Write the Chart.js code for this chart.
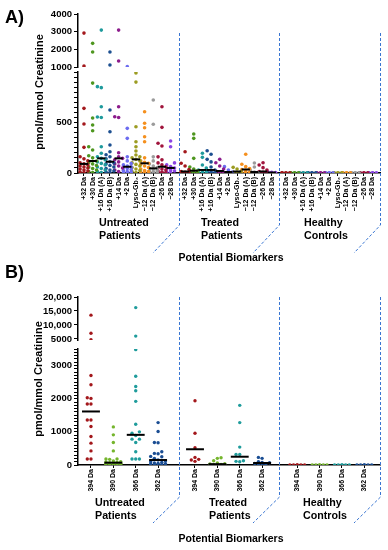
<!DOCTYPE html>
<html>
<head>
<meta charset="utf-8">
<script src="https://cdn.jsdelivr.net/npm/chart.js@4"></script>
<style>
  body { margin: 0; background: #fff; width: 388px; height: 550px; overflow: hidden; position: relative; }
  canvas { position: absolute; left: 0; }
  #chartA { top: 0; }
  #chartB { top: 265px; }
</style>
</head>
<body>
<canvas id="chartA" width="388" height="265"></canvas>
<canvas id="chartB" width="388" height="285"></canvas>
<script>
const FONT = '"Liberation Sans", Arial, sans-serif'
const groupNames = [['Untreated', 'Patients'], ['Treated', 'Patients'], ['Healthy', 'Controls']]

// Panel A
const catsA = ['+32 Da', '+30 Da', '+16 Da (A)', '+16 Da (B)', '+14 Da', '+2 Da', 'Lyso-Gb₃', '−12 Da (A)', '−12 Da (B)', '−26 Da', '−28 Da']
const colorsA = ['#a3181c', '#4e961f', '#1e9a9c', '#1c4f90', '#8c1c8c', '#6c6cf0', '#9c9c22', '#f5901e', '#9b9b9b', '#a0143c', '#8a44e4']

const aUntreated = [
  [2920, 1060, 640, 485, 254, 161, 140, 120, 100, 90, 80, 70, 60, 50, 40, 30, 20, 10, 5],
  [2340, 1850, 890, 545, 475, 419, 260, 228, 171, 150, 119, 105, 90, 75, 60, 45, 30, 15, 5],
  [3090, 855, 845, 656, 555, 550, 260, 195, 160, 145, 130, 110, 95, 80, 60, 45, 30, 15, 5],
  [1850, 1110, 624, 409, 277, 211, 180, 161, 140, 112, 100, 90, 75, 60, 45, 30, 20, 10, 5],
  [3090, 1340, 656, 557, 550, 200, 160, 145, 130, 110, 90, 70, 50, 30, 15],
  [1030, 442, 343, 160, 120, 95, 80, 70, 62, 55, 45, 35, 25, 15, 10, 5, 3],
  [990, 900, 458, 310, 260, 218, 178, 160, 150, 135, 120, 100, 85, 70, 55, 40, 25, 15, 5],
  [607, 492, 448, 359, 310, 150, 120, 105, 96, 85, 70, 55, 40, 25, 15, 10, 5],
  [723, 482, 160, 120, 90, 70, 55, 46, 40, 30, 20, 15, 10, 5, 2],
  [656, 452, 294, 267, 160, 130, 100, 80, 62, 50, 40, 30, 20, 10, 5, 3, 2],
  [317, 260, 100, 80, 65, 50, 40, 30, 20, 10, 5]
]
const aUntreatedMed = [90, 119, 145, 112, 145, 62, 135, 96, 46, 62, 50]

const aTreated = [
  [211, 96, 70, 35, 15, 8, 4, 2, 1],
  [386, 343, 145, 60, 40, 23, 15, 10, 5, 2, 1],
  [195, 155, 79, 50, 30, 20, 10, 5, 2],
  [221, 185, 135, 110, 60, 30, 20, 12, 6, 3, 1],
  [135, 102, 69, 40, 20, 10, 5, 2, 1],
  [63, 30, 10, 5, 2],
  [56, 40, 15, 8, 3],
  [185, 86, 63, 45, 35, 20, 10, 5, 2],
  [99, 59, 25, 10, 5, 3, 1],
  [102, 79, 53, 30, 15, 8, 4, 2, 1],
  [12, 8, 5, 3, 1]
]
const aTreatedMed = [15, 23, 30, 30, 20, 10, 15, 35, 10, 15, 5]

const aHealthy = [
  [3, 2, 1, 1, 0], [3, 2, 1, 1, 0], [3, 2, 1, 1, 0], [3, 2, 1, 1, 0],
  [3, 2, 1, 1, 0], [3, 2, 1, 1, 0], [3, 2, 1, 1, 0], [3, 2, 1, 1, 0],
  [3, 2, 1, 1, 0], [3, 2, 1, 1, 0], [3, 2, 1, 1, 0]
]
const aHealthyMed = [1, 1, 1, 1, 1, 1, 1, 1, 1, 1, 1]

const aLowTicks = [0, 500]
const aHighTicks = [1000, 2000, 3000, 4000]

// Panel B
const catsB = ['394 Da', '390 Da', '366 Da', '362 Da']
const colorsB = ['#a3171b', '#75b52d', '#1f9c9c', '#1a4d93']

const bUntreated = [
  [13500, 7000, 4700, 2700, 2420, 2030, 2010, 1840, 1840, 1360, 1360, 1160, 860, 660, 425, 180, 180],
  [1150, 910, 680, 425, 180, 180, 170, 120, 100, 90, 80, 70, 60, 50, 45, 40, 35, 30, 25, 20, 15, 10, 5],
  [16200, 6000, 3480, 2680, 2370, 2240, 1920, 1230, 1000, 960, 890, 780, 780, 680, 400, 180, 180, 180],
  [1280, 1010, 680, 670, 400, 350, 340, 260, 250, 200, 150, 120, 100, 80, 60, 50, 40, 30, 20, 10, 5]
]
const bUntreatedMed = [1615, 70, 910, 150]

const bTreated = [
  [1940, 960, 520, 230, 170, 150, 110],
  [220, 200, 130, 60, 40, 30, 20, 10, 5],
  [1800, 1280, 540, 320, 320, 130, 110, 100],
  [230, 200, 100, 80, 70, 50, 30, 20, 10]
]
const bTreatedMed = [475, 25, 250, 60]

const bHealthy = [[5, 3, 2, 1, 1, 0], [5, 3, 2, 1, 1, 0], [5, 3, 2, 1, 1, 0], [5, 3, 2, 1, 1, 0]]
const bHealthyMed = [1, 1, 1, 1]

const bLowTicks = [0, 1000, 2000, 3000]
const bHighTicks = [5000, 10000, 15000, 20000]
const bHighLabels = ['5000', '10,000', '15,000', '20,000']


function decor(p) {
  return {
    id: 'decor' + p.letter,
    beforeDatasetsDraw(chart) {
      const { ctx, scales: { x } } = chart
      ctx.save()
      ctx.strokeStyle = '#3a76d2'
      ctx.lineWidth = 1
      ctx.setLineDash([3, 2])
      for (let g = 1; g <= 3; g++) {
        const px = Math.round(x.getPixelForValue(g * p.stride)) + 0.5
        ctx.beginPath()
        ctx.moveTo(px, p.dashTop)
        ctx.lineTo(px, p.diagTop)
        ctx.lineTo(px - 26.5, p.diagBottom)
        ctx.stroke()
      }
      ctx.restore()
    },
    afterDraw(chart) {
      const { ctx } = chart
      ctx.save()
      ctx.fillStyle = '#000'
      ctx.font = 'bold 18px ' + FONT
      ctx.textAlign = 'left'
      ctx.textBaseline = 'alphabetic'
      ctx.fillText(p.letter + ')', 5, p.letterY)

      ctx.save()
      ctx.translate(p.titleX, p.titleY)
      ctx.rotate(-Math.PI / 2)
      ctx.font = 'bold 11px ' + FONT
      ctx.textAlign = 'center'
      ctx.textBaseline = 'middle'
      ctx.fillText('pmol/mmol Creatinine', 0, 0)
      ctx.restore()

      ctx.font = 'bold 10.7px ' + FONT
      ctx.textAlign = 'left'
      ctx.textBaseline = 'middle'
      groupNames.forEach((lines, g) => {
        ctx.fillText(lines[0], p.groupX[g], p.groupY[0])
        ctx.fillText(lines[1], p.groupX[g], p.groupY[1])
      })

      ctx.font = 'bold 10.5px ' + FONT
      ctx.textAlign = 'center'
      ctx.fillText('Potential Biomarkers', 231, p.xTitleY)
      ctx.restore()
    }
  }
}

// spread overlapping dots sideways, like a dot plot
function spread(chart, r, maxOff) {
  const xs = chart.scales.x
  const unit = xs.getPixelForValue(1) - xs.getPixelForValue(0)
  const d = 2 * r + 0.3
  chart.data.datasets.forEach(ds => {
    if (ds.center === undefined) return
    const ys = chart.scales[ds.yAxisID]
    const placed = []
    const pts = ds.data.slice().sort((a, b) => a.y - b.y)
    ds.data = pts.map(pt => {
      const py = ys.getPixelForValue(pt.y)
      let best = 0, bestGap = -1
      for (let k = 0; k < 20; k++) {
        const off = (k % 2 ? -1 : 1) * Math.ceil(k / 2) * d
        if (Math.abs(off) > maxOff) break
        const gap = Math.min(Infinity, ...placed.map(q => Math.hypot(q.x - off, q.y - py)))
        if (gap >= d) { best = off; bestGap = gap; break }
        if (gap > bestGap) { best = off; bestGap = gap }
      }
      placed.push({ x: best, y: py })
      return { x: ds.center + best / unit, y: pt.y }
    })
  })
  chart.update('none')
}

function makePanel(id, p) {
  const datasets = []
  const xTicks = []
  const xLabels = []
  p.groups.forEach((vals, g) => {
    vals.forEach((arr, i) => {
      const cx = p.groupStart[g] + i
      xTicks.push(cx)
      xLabels.push(p.cats[i])
      const low = arr.filter(v => v <= p.lowMax).map(v => ({ x: cx, y: v }))
      const high = arr.filter(v => v > p.lowMax).map(v => ({ x: cx, y: v }))
      ;[[low, 'yLow'], [high, 'yHigh']].forEach(([pts, axis]) => {
        if (!pts.length) return
        datasets.push({
          data: pts, yAxisID: axis, center: cx,
          backgroundColor: p.colors[i], borderWidth: 0,
          pointRadius: p.r, pointHoverRadius: p.r, order: 2
        })
      })
      const m = p.medians[g][i]
      datasets.push({
        data: [{ x: cx - p.medHalf, y: m }, { x: cx + p.medHalf, y: m }],
        yAxisID: 'yLow', showLine: true, borderColor: '#000', borderWidth: 2,
        pointRadius: 0, order: g === 2 ? 3 : 1
      })
    })
  })

  const tickFont = { family: FONT, weight: 'bold', size: 9.5 }
  const yAxis = (extra) => Object.assign({
    type: 'linear', position: 'left', stack: 'left',
    border: { color: '#000', width: 1.5 },
    grid: { drawOnChartArea: false, color: '#000', tickLength: 4, tickWidth: 1 },
    afterFit: s => { s.width = 58 }
  }, extra)

  const chart = new Chart(document.getElementById(id), {
    type: 'scatter',
    data: { datasets },
    options: {
      responsive: false,
      animation: false,
      events: [],
      layout: { padding: { top: p.top, left: 20, right: 8, bottom: 0 } },
      plugins: { legend: { display: false }, tooltip: { enabled: false } },
      scales: {
        x: {
          type: 'linear', min: 0, max: 3 * p.stride, position: 'bottom',
          border: { color: '#000', width: 1.5 },
          grid: { drawOnChartArea: false, color: '#000', tickLength: 3 },
          ticks: {
            autoSkip: false, minRotation: 90, maxRotation: 90, padding: 1, color: '#000',
            font: { family: FONT, weight: 'bold', size: 7 },
            callback: (v, i) => xLabels[i]
          },
          afterBuildTicks: s => { s.ticks = xTicks.map(v => ({ value: v })) },
          afterFit: s => { s.height = p.xHeight }
        },
        yLow: yAxis({
          min: 0, max: p.lowMax, stackWeight: p.weights[2],
          ticks: {
            autoSkip: false, padding: 2, color: '#000', font: tickFont,
            callback: v => p.lowTicks.includes(v) ? String(v) : ''
          },
          afterBuildTicks: s => {
            const t = []
            for (let v = 0; v <= p.lowMax; v += p.minorStep) t.push({ value: v })
            s.ticks = t
          }
        }),
        yGap: yAxis({
          min: 0, max: 1, stackWeight: p.weights[1],
          border: { display: false }, grid: { display: false }, ticks: { display: false }
        }),
        yHigh: yAxis({
          min: p.highMin, max: p.highMax, stackWeight: p.weights[0],
          ticks: {
            autoSkip: false, padding: 2, color: '#000', font: tickFont,
            callback: (v, i) => p.highLabels[i]
          },
          afterBuildTicks: s => { s.ticks = p.highTicks.map(v => ({ value: v })) }
        })
      }
    },
    plugins: [decor(p)]
  })
  spread(chart, p.r, p.maxOff)
  return chart
}

makePanel('chartA', {
  letter: 'A', letterY: 23, titleX: 40, titleY: 92,
  cats: catsA, colors: colorsA,
  groups: [aUntreated, aTreated, aHealthy],
  medians: [aUntreatedMed, aTreatedMed, aHealthyMed],
  stride: 11.62, groupStart: [0.69, 12.36, 24.0],
  lowMax: 1000, minorStep: 50, lowTicks: aLowTicks,
  highMin: 1000, highMax: 4000, highTicks: aHighTicks, highLabels: aHighTicks.map(String),
  weights: [53, 5, 101], top: 14, xHeight: 92,
  r: 1.8, maxOff: 3.9, medHalf: 0.48,
  dashTop: 33, diagTop: 225, diagBottom: 253,
  groupX: [99, 201, 304], groupY: [223, 236], xTitleY: 258
})

makePanel('chartB', {
  letter: 'B', letterY: 13, titleX: 39, titleY: 114,
  cats: catsB, colors: colorsB,
  groups: [bUntreated, bTreated, bHealthy],
  medians: [bUntreatedMed, bTreatedMed, bHealthyMed],
  stride: 4.5, groupStart: [0.58, 5.23, 9.8],
  lowMax: 3500, minorStep: 100, lowTicks: bLowTicks,
  highMin: 4600, highMax: 20000, highTicks: bHighTicks, highLabels: bHighLabels,
  weights: [43, 9, 116], top: 32, xHeight: 85,
  r: 1.7, maxOff: 9, medHalf: 0.4,
  dashTop: 32, diagTop: 232, diagBottom: 258,
  groupX: [95, 209, 303], groupY: [238, 251], xTitleY: 274
})
</script>
</body>
</html>
